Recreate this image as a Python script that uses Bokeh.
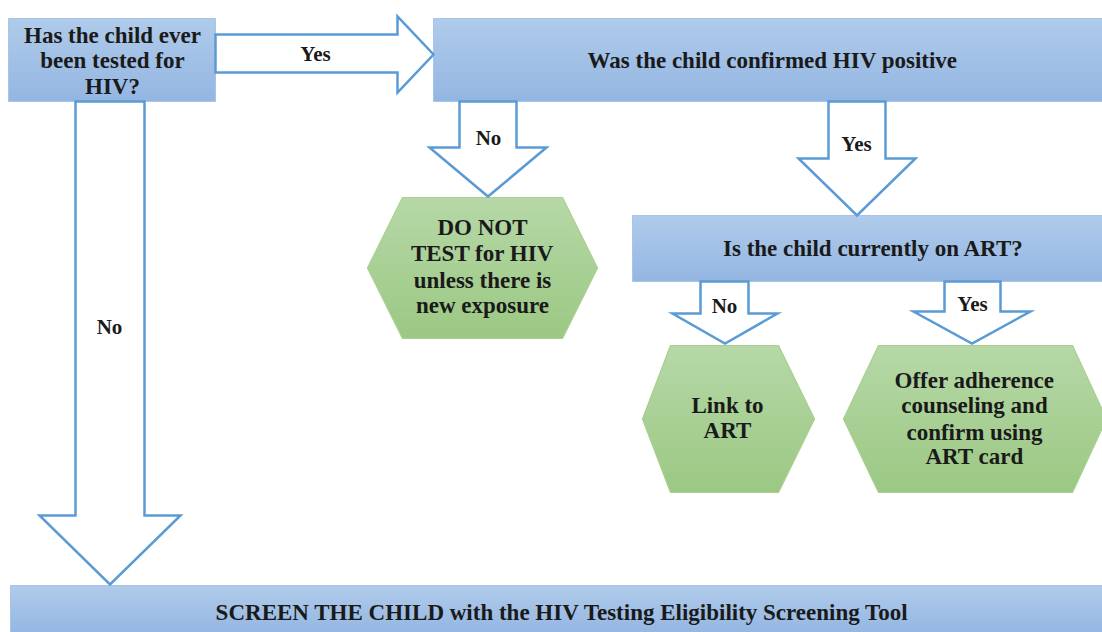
from bokeh.plotting import figure
from bokeh.models import Range1d
from bokeh.embed import file_html
from bokeh.resources import INLINE
from bokeh.core.properties import value

# ---------------- content ----------------
q_tested = ["Has the child ever", "been tested for", "HIV?"]
q_positive = ["Was the child confirmed HIV positive"]
q_on_art = ["Is the child currently on ART?"]
o_no_test = ["DO NOT", "TEST for HIV", "unless there is", "new exposure"]
o_link = ["Link to", "ART"]
o_adherence = ["Offer adherence", "counseling and", "confirm using", "ART card"]
o_screen = ["SCREEN THE CHILD with the HIV Testing Eligibility Screening Tool"]
answers = ["Yes", "No", "No", "Yes", "No", "Yes"]

# ---------------- layout (pixel space of the picture) ----------------
W, H = 1102, 632
FONT = value("Liberation Serif")
FS = "23px"
BLUE_TOP, BLUE_BOT = "#b0cbea", "#93b6e2"
GREEN_TOP, GREEN_BOT = "#b6d8a7", "#9bc883"
ARROW = "#5b9bd5"

p = figure(width=W, height=H, x_range=Range1d(0, W), y_range=Range1d(H, 0),
           output_backend="svg", toolbar_location=None, tools="", min_border=0,
           x_axis_location=None, y_axis_location=None)
p.grid.visible = False
p.outline_line_color = None
p.background_fill_color = "white"
p.border_fill_color = "white"


def hex2rgb(c):
    c = c.lstrip("#")
    return tuple(int(c[i:i + 2], 16) for i in (0, 2, 4))


def mix(c1, c2, t):
    a, b = hex2rgb(c1), hex2rgb(c2)
    return "#%02x%02x%02x" % tuple(int(round(a[i] + (b[i] - a[i]) * t)) for i in range(3))


def grad_rect(x0, x1, y0, y1, ctop, cbot):
    n = int(round(y1 - y0))
    tops, bots, cols = [], [], []
    for i in range(n):
        a = y0 + (y1 - y0) * i / n
        b = min(y0 + (y1 - y0) * (i + 1) / n + 0.6, y1)
        tops.append(a)
        bots.append(b)
        cols.append(mix(ctop, cbot, (i + 0.5) / n))
    p.quad(left=x0, right=x1, top=tops, bottom=bots, fill_color=cols, line_color=None)
    p.quad(left=[x0], right=[x1], top=[y0], bottom=[y1], fill_color=None,
           line_color="#a8c4e8", line_width=1)


def grad_hex(xl, xa, xb, xr, y0, y1, ctop, cbot):
    ym = (y0 + y1) / 2.0
    half = ym - y0
    n = int(round(y1 - y0))
    lefts, rights, tops, bots, cols = [], [], [], [], []
    for i in range(n):
        a = y0 + (y1 - y0) * i / n
        b = min(y0 + (y1 - y0) * (i + 1) / n + 0.6, y1)
        yc = (a + b) / 2.0
        t = abs(yc - ym) / half
        lefts.append(xl + (xa - xl) * t)
        rights.append(xr - (xr - xb) * t)
        tops.append(a)
        bots.append(b)
        cols.append(mix(ctop, cbot, (i + 0.5) / n))
    p.quad(left=lefts, right=rights, top=tops, bottom=bots, fill_color=cols, line_color=None)
    p.patch([xa, xb, xr, xb, xa, xl], [y0, y0, ym, y1, y1, ym], fill_color=None,
            line_color="#a9d08e", line_width=1.2)


def text_lines(lines, x, ys):
    p.text(x=[x] * len(lines), y=ys, text=lines, text_font=FONT, text_font_style="bold",
           text_font_size=FS, text_align="center", text_baseline="middle",
           text_color="#1a1a1a")


# ---------------- boxes ----------------
grad_rect(8, 215, 18, 101, BLUE_TOP, BLUE_BOT)
grad_rect(433, 1104, 18, 101, BLUE_TOP, BLUE_BOT)
grad_rect(632, 1104, 215, 281, BLUE_TOP, BLUE_BOT)
grad_rect(10, 1104, 585, 634, BLUE_TOP, BLUE_BOT)

# ---------------- hexagons ----------------
grad_hex(367, 402, 562, 597, 197, 338, GREEN_TOP, GREEN_BOT)
grad_hex(642, 670, 778, 814, 345, 492, GREEN_TOP, GREEN_BOT)
grad_hex(843, 878, 1072, 1106, 345, 492, GREEN_TOP, GREEN_BOT)

# ---------------- block arrows ----------------
def down_arrow(sx0, sx1, y_top, y_head, hx0, hx1, tip_y):
    tip_x = (hx0 + hx1) / 2.0
    return ([sx0, sx1, sx1, hx1, tip_x, hx0, sx0],
            [y_top, y_top, y_head, y_head, tip_y, y_head, y_head])


xs, ys = [], []
# right arrow "Yes"
xs.append([215, 397, 397, 433, 397, 397, 215])
ys.append([34, 34, 16, 54, 92, 72, 72])
for a in [down_arrow(75, 144, 101, 515, 39, 180, 584),
          down_arrow(459, 516, 101, 147, 429, 546, 196),
          down_arrow(828, 885, 101, 158, 798, 915, 215),
          down_arrow(700, 748, 281, 313, 672, 777, 343),
          down_arrow(944, 1000, 281, 311, 913, 1030, 343)]:
    xs.append(a[0])
    ys.append(a[1])
p.patches(xs, ys, fill_color="white", line_color=ARROW, line_width=2.5, line_join="miter")

# ---------------- texts ----------------
text_lines(q_tested, 112, [35, 60, 86])
text_lines(q_positive, 772, [60])
text_lines(q_on_art, 873, [248])
text_lines(o_no_test, 482, [227, 253, 280, 305])
text_lines(o_link, 727, [405, 430])
text_lines(o_adherence, 974, [380, 405, 432, 456])
text_lines(o_screen, 562, [612])

ans_x = [315, 109, 488, 856, 724, 972]
ans_y = [53, 326, 137, 143, 305, 303]
p.text(x=ans_x, y=ans_y, text=answers, text_font=FONT, text_font_style="bold",
       text_font_size="21px", text_align="center", text_baseline="middle",
       text_color="#1a1a1a")

open("out.html", "w").write(file_html(p, INLINE))
